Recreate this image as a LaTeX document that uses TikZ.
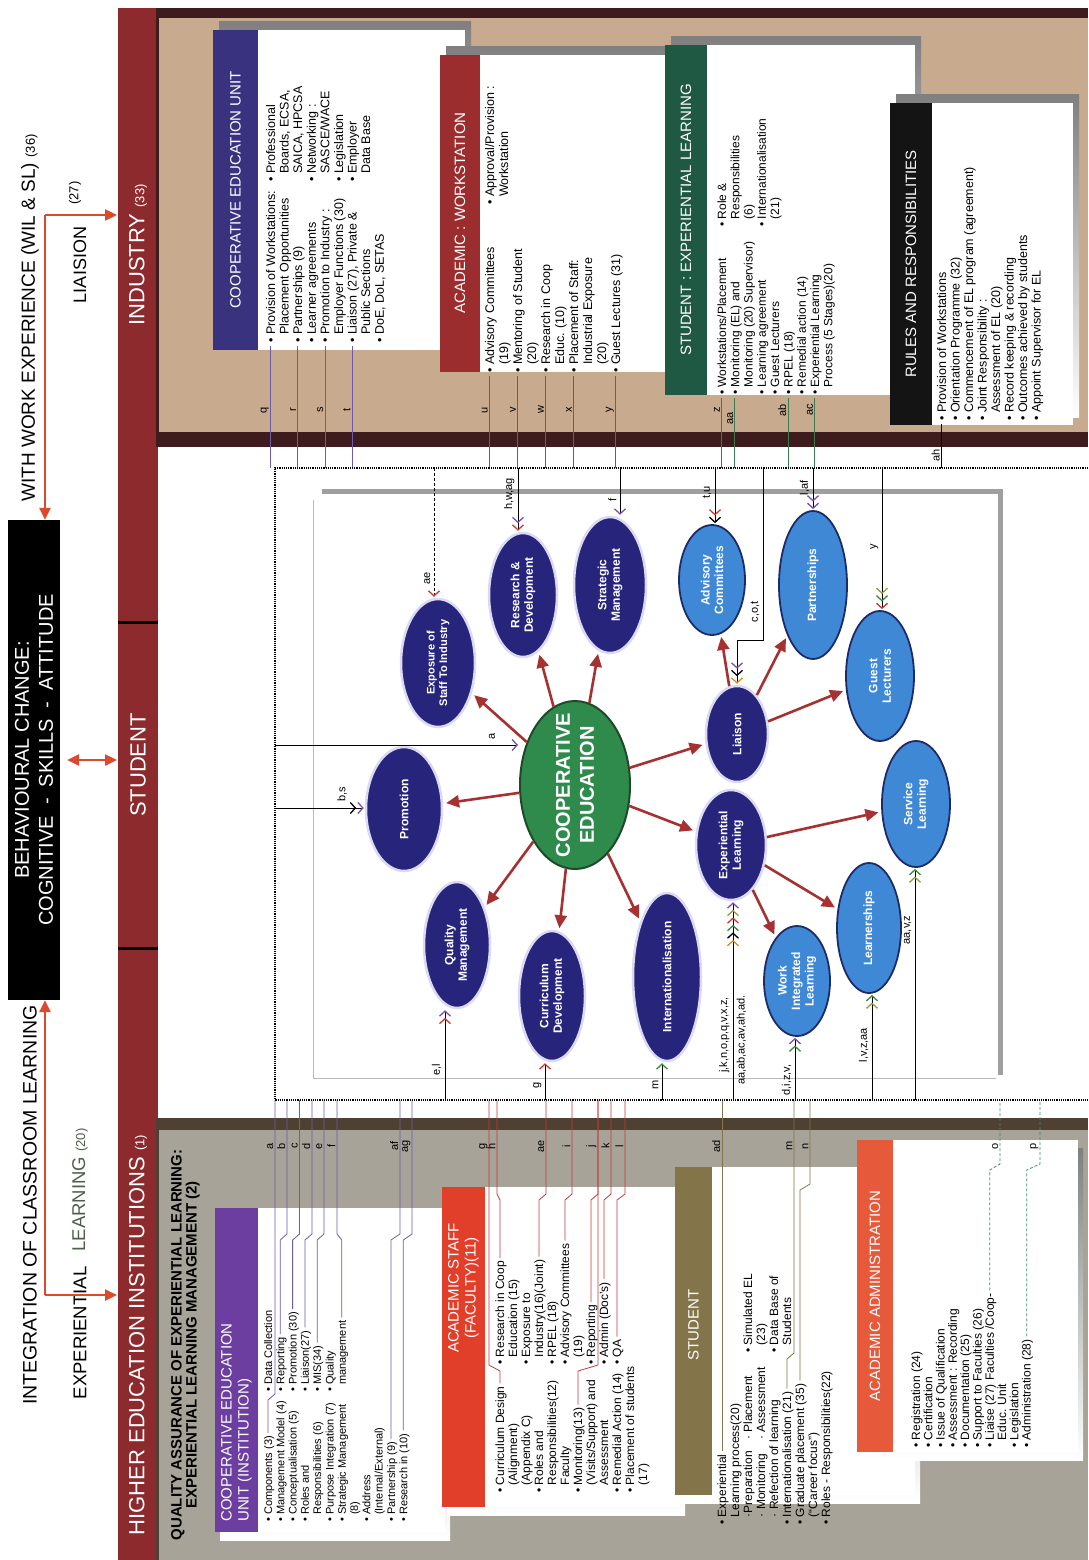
\documentclass[tikz,border=0pt]{standalone}
\usepackage{fontspec}
\setmainfont{Liberation Sans}
\usetikzlibrary{arrows.meta,shapes.geometric}

\definecolor{band}{HTML}{8C2A2E}
\definecolor{indbg}{HTML}{C8AA8F}
\definecolor{heibg}{HTML}{A7A398}
\definecolor{darkline}{HTML}{3E1B1D}
\definecolor{heiline}{HTML}{4F4131}
\definecolor{shade}{HTML}{8F8F8F}
\definecolor{ceuind}{HTML}{38327F}
\definecolor{acws}{HTML}{9C2D2F}
\definecolor{stel}{HTML}{1F5943}
\definecolor{rulesh}{HTML}{141414}
\definecolor{ceuhei}{HTML}{6B3E9F}
\definecolor{acst}{HTML}{E23F2B}
\definecolor{stuhei}{HTML}{847449}
\definecolor{acadm}{HTML}{E65A3B}
\definecolor{navy}{HTML}{27247B}
\definecolor{halo}{HTML}{DCDAF2}
\definecolor{skyb}{HTML}{3E88D6}
\definecolor{rim}{HTML}{1E2B66}
\definecolor{coopg}{HTML}{2F8B4C}
\definecolor{coopd}{HTML}{1E4A2A}
\definecolor{spoke}{HTML}{A53130}
\definecolor{leftred}{HTML}{DC4A2E}
\definecolor{lpurple}{HTML}{6E5AAE}
\definecolor{lred}{HTML}{C23B3B}
\definecolor{lteal}{HTML}{3F8A7C}
\definecolor{lgreen}{HTML}{3C7A52}
\definecolor{lrng}{HTML}{4E5F4B}
\definecolor{bpur}{HTML}{7A4FB0}
\definecolor{bred}{HTML}{D0392A}
\definecolor{bgrn}{HTML}{3A8A3A}
\definecolor{borg}{HTML}{E08A20}
\definecolor{boli}{HTML}{9A9A40}

\tikzset{
  tip1/.style={-{Straight Barb[length=5pt,width=11pt,line width=1.3pt,sep=1pt,color=#1]}},
  tip2/.style 2 args={-{Straight Barb[length=5pt,width=11pt,line width=1.3pt,sep=1pt,color=#1]
    Straight Barb[length=5pt,width=11pt,line width=1.3pt,sep=1pt,color=#2]}},
  tip3/.style n args={3}{-{Straight Barb[length=5pt,width=11pt,line width=1.3pt,sep=1pt,color=#1]
    Straight Barb[length=5pt,width=11pt,line width=1.3pt,sep=1pt,color=#2]
    Straight Barb[length=5pt,width=11pt,line width=1.3pt,sep=1pt,color=#3]}},
  tip6/.style n args={6}{-{Straight Barb[length=5pt,width=11pt,line width=1.3pt,sep=1pt,color=#1]
    Straight Barb[length=5pt,width=11pt,line width=1.3pt,sep=1pt,color=#2]
    Straight Barb[length=5pt,width=11pt,line width=1.3pt,sep=1pt,color=#3]
    Straight Barb[length=5pt,width=11pt,line width=1.3pt,sep=1pt,color=#4]
    Straight Barb[length=5pt,width=11pt,line width=1.3pt,sep=1pt,color=#5]
    Straight Barb[length=5pt,width=11pt,line width=1.3pt,sep=1pt,color=#6]}}
}

\newcommand{\bul}{\textbullet\ }
\newcommand{\skp}{\phantom{\textbullet\ }}
% HEI row: from the end of the text up to the dotted frame
\newcommand{\hlink}[5]{%
  \coordinate (s) at ([xshift=-4pt,yshift=3pt]#2.base east);
  \draw[#1] (s) -- (s |- 0,#3) -- (#4,#3-6) -- (#4,1100);
  \node[lab] at (#4,1146) {#5};}
% industry row: from the bullet down to the dotted frame
\newcommand{\ilink}[4]{%
  \coordinate (s) at ([xshift=-4.5pt,yshift=-3pt]#2.base west);
  \draw[#1] (s) -- (s |- 0,468);
  \node[lab] at (s |- 0,#4) {#3};}

\begin{document}
\begin{tikzpicture}[x=1pt,y=-1pt,
  every node/.style={rotate=90,inner sep=0pt},
  lst/.style={anchor=base west,font=\fontsize{#1}{#1}\selectfont},
  lst/.default=12.5,
  hd/.style={text=white,align=center,font=\fontsize{15}{17}\selectfont},
  lab/.style={anchor=south,inner sep=1.5pt,font=\fontsize{11}{11}\selectfont},
  ell/.style 2 args={ellipse,minimum height=#1,minimum width=#2,align=center,text=white,
    font=\bfseries\fontsize{12}{13.5}\selectfont},
  dk/.style={fill=navy,draw=halo,line width=2.5pt},
  lt/.style={fill=skyb,draw=rim,line width=1.8pt},
  spk/.style={draw=spoke,line width=2.6pt,-{Triangle[length=13pt,width=12pt]},shorten >=3pt},
  lr/.style={draw=leftred,line width=2.4pt,-{Triangle[length=12pt,width=11pt]}},
  ml/.style={line width=0.8pt}]
\useasboundingbox (0,0) rectangle (1088,1560);
\fill[white] (0,0) rectangle (1088,1560);

% section grounds
\fill[indbg] (158,8) rectangle (1088,440);
\fill[heibg] (158,1125) rectangle (1088,1560);
\fill[darkline] (158,8) rectangle (1088,18);
\fill[darkline] (158,432) rectangle (1088,447);
\fill[heiline] (158,1118) rectangle (1088,1130);
\fill[band] (118,8) rectangle (158,1560);
\draw[darkline,line width=3pt] (157,8) -- (157,447);
\draw[heiline,line width=3pt] (157,1118) -- (157,1560);
\draw[black,line width=3pt] (118,622) -- (158,622);
\draw[black,line width=3pt] (118,948) -- (158,948);
\node[text=white,font=\fontsize{22}{22}\selectfont] (indl) at (138,255) {INDUSTRY {\fontsize{13}{13}\selectfont(33)}};
\node[text=white,font=\fontsize{22}{22}\selectfont] (stul) at (138,765) {STUDENT};
\node[text=white,font=\fontsize{22}{22}\selectfont] (heil) at (138,1335) {HIGHER EDUCATION INSTITUTIONS {\fontsize{13}{13}\selectfont(1)}};

% headings on the left
\coordinate (bandL) at (117,0);
\node[fill=black,text=white,minimum width=480pt,minimum height=52pt,align=center,
  font=\fontsize{20}{24}\selectfont] (bc) at (34,760)
  {BEHAVIOURAL CHANGE:\\COGNITIVE \ - \ SKILLS \ - \ ATTITUDE};
\node[font=\fontsize{19.5}{20}\selectfont] (icl) at (30,1205) {INTEGRATION OF CLASSROOM LEARNING};
\node[font=\fontsize{18.5}{19}\selectfont] (exl) at (80,1333) {EXPERIENTIAL};
\node[font=\fontsize{18.5}{19}\selectfont,text=lrng] (lrn) at (80,1190) {LEARNING {\fontsize{13}{13}\selectfont(20)}};
\node[font=\fontsize{19}{20}\selectfont] (wwe) at (30,318) {WITH WORK EXPERIENCE (WIL \& SL) {\fontsize{13}{13}\selectfont(36)}};
\node[font=\fontsize{18}{19}\selectfont] (lia) at (80,265) {LIAISION};
\node[font=\fontsize{13}{13}\selectfont] (l27) at (75,193) {(27)};
\coordinate (tl) at (45,215);
\coordinate (bl) at (45,1295);
\draw[lr] (tl) -- (tl |- bc.east);
\draw[lr] (tl) -- (tl -| bandL);
\draw[lr] (bl) -- (bl |- bc.west);
\draw[lr] (bl) -- (bl -| bandL);
\draw[lr,{Triangle[length=12pt,width=11pt]}-{Triangle[length=12pt,width=11pt]}] ([xshift=7pt]bc.south) -- (bandL |- bc.south);

% industry boxes
\fill[shade] (219,22) rectangle (471,342);
\fill[white] (258,30) rectangle (465,350);
\fill[ceuind] (213,30) rectangle (258,350);
\node[hd] (t-ceu) at (235.5,190) {COOPERATIVE EDUCATION UNIT};
\foreach \txt [count=\i] in {\bul Provision of Workstations:,\skp Placement Opportunities,\bul Partnerships (9),\bul Learner agreements,\bul Promotion to Industry :,\skp Employer Functions (30),{\bul Liaison (27), Private \&},\skp Public Sections,{\bul DoE, DoL, SETAS}}
  \node[lst] (ca\i) at ({275+13.6*(\i-1)},343) {\txt};
\foreach \txt [count=\i] in {\bul Professional,{\skp Boards, ECSA,},{\skp SAICA, HPCSA},\bul Networking :,\skp SASCE/WACE,\bul Legislation,\bul Employer,\skp Data Base}
  \node[lst] (cb\i) at ({275+13.6*(\i-1)},182) {\txt};

\fill[shade] (446,47) rectangle (696,364);
\fill[white] (480,55) rectangle (690,372);
\fill[acws] (440,55) rectangle (480,372);
\node[hd] (t-acw) at (460,213) {ACADEMIC : WORKSTATION};
\foreach \txt [count=\i] in {\bul Advisory Committees,\skp (19),\bul Mentoring of Student,\skp (20),\bul Research in Coop,\skp Educ. (10),\bul Placement of Staff:,\skp Industrial Exposure,\skp (20),\bul Guest Lectures (31)}
  \node[lst] (wa\i) at ({494+14*(\i-1)},373) {\txt};
\foreach \txt [count=\i] in {\bul Approval/Provision :,\skp Workstation}
  \node[lst] (wb\i) at ({494+14*(\i-1)},205) {\txt};

\fill[shade] (671,37) rectangle (921,387);
\fill[white] (707,45) rectangle (915,395);
\fill[stel] (665,45) rectangle (707,395);
\node[hd] (t-sel) at (686,220) {STUDENT : EXPERIENTIAL LEARNING};
\foreach \txt [count=\i] in {\bul Workstations/Placement,\bul Monitoring (EL) and,\skp Monitoring (20) Supervisor),\bul Learning agreement,\bul Guest Lecturers,\bul RPEL (18),\bul Remedial action (14),\bul Experiential Learning,\skp Process (5 Stages)(20)}
  \node[lst=12] (sa\i) at ({726+13.3*(\i-1)},395) {\txt};
\foreach \txt [count=\i] in {\bul Role \&,\skp Responsibilities,\skp (6),\bul Internationalisation,\skp (21)}
  \node[lst=12] (sb\i) at ({726+13.3*(\i-1)},227) {\txt};

\fill[shade] (896,95) rectangle (1079,417);
\fill[white] (932,103) rectangle (1073,425);
\fill[rulesh] (890,103) rectangle (932,425);
\node[hd] (t-rr) at (911,264) {RULES AND RESPONSIBILITIES};
\foreach \txt [count=\i] in {\bul Provision of Workstations,\bul Orientation Programme (32),\bul Commencement of EL program (agreement),\bul Joint Responsibility :,\skp Assessment of EL (20),\bul Record keeping \& recording,\bul Outcomes achieved by students,\bul Appoint Supervisor for EL}
  \node[lst] (ra\i) at ({946+13.5*(\i-1)},421) {\txt};

% HEI boxes
\node[font=\bfseries\fontsize{15}{15}\selectfont,align=center] (qa) at (185.5,1345)
  {QUALITY ASSURANCE OF EXPERIENTIAL LEARNING:\\EXPERIENTIAL LEARNING MANAGEMENT (2)};

\fill[shade] (220,1216) rectangle (450,1540);
\fill[white] (258,1208) rectangle (445,1532);
\fill[ceuhei] (215,1208) rectangle (258,1532);
\node[hd,align=left,anchor=west] (t-ceh) at (236.5,1522) {COOPERATIVE EDUCATION\\UNIT (INSTITUTION)};
\foreach \txt [count=\i] in {\bul Components (3),\bul Management Model (4),\bul Conceptualisation (5),\bul Roles and,\skp Responsibilities (6),\bul Purpose Integration (7),\bul Strategic Management,\skp (8),\bul Address,\skp (Internal/External),\bul Partnership (9),\bul Research in (10)}
  \node[lst=11] (ha\i) at ({272+12.3*(\i-1)},1522) {\txt};
\foreach \txt [count=\i] in {\bul Data Collection,\bul Reporting,\bul Promotion (30),\bul Liaison(27),\bul MIS(34),\bul Quality,\skp management}
  \node[lst=11] (hb\i) at ({272+12.3*(\i-1)},1392) {\txt};

\fill[shade] (447,1195) rectangle (685,1515);
\fill[white] (485,1187) rectangle (680,1507);
\fill[acst] (442,1187) rectangle (485,1507);
\node[hd] (t-acs) at (463.5,1288) {ACADEMIC STAFF\\(FACULTY)(11)};
\foreach \txt [count=\i] in {\bul Curriculum Design,\skp (Alignment),\skp (Appendix C),\bul Roles and,\skp Responsibilities(12),\skp Faculty,\bul Monitoring(13),\skp (Visits/Support) and,\skp Assessment,\bul Remedial Action (14),\bul Placement of students,\skp (17)}
  \node[lst=12] (hc\i) at ({504+13*(\i-1)},1493) {\txt};
\foreach \txt [count=\i] in {\bul Research in Coop,\skp Education (15),\bul Exposure to,\skp Industry(16)(Joint),\bul RPEL (18),\bul Advisory Committees,\skp (19),\bul Reporting,\bul Admin (Doc's),\bul QA}
  \node[lst=12] (hd\i) at ({504+13*(\i-1)},1365) {\txt};

\fill[shade] (680,1175) rectangle (920,1503);
\fill[white] (712,1167) rectangle (915,1495);
\fill[stuhei] (675,1167) rectangle (712,1495);
\node[hd] (t-sth) at (693.5,1325) {STUDENT};
\foreach \txt [count=\i] in {\bul Experiential,\skp Learning process(20),\skp ·Preparation,\skp · Monitoring,\skp · Refection of learning,\bul Internationalisation (21),\bul Graduate placement (35),\skp (``Career focus''),\bul Roles - Responsibilities(22)}
  \node[lst=12] (he\i) at ({726+13*(\i-1)},1525) {\txt};
\node[lst=12] (hf3) at (752,1440) {· Placement};
\node[lst=12] (hf4) at (765,1440) {· Assessment};
\foreach \txt [count=\i from 3] in {\bul Simulated EL,\skp (23),\bul Data Base of,\skp Students}
  \node[lst=12] (hg\i) at ({726+13*(\i-1)},1353) {\txt};

\fill[shade] (862,1148) rectangle (1083,1460);
\fill[white] (893,1140) rectangle (1078,1452);
\fill[acadm] (857,1140) rectangle (893,1452);
\node[hd] (t-adm) at (875,1296) {ACADEMIC ADMINISTRATION};
\foreach \txt [count=\i] in {\bul Registration (24),\bul Certification,\bul Issue of Qualification,\bul Assessment : Recording,\bul Documentation (25),\bul Support to Faculties (26),\bul Liaise (27) Faculties /Coop-,\skp Educ. Unit,\bul Legislation,\bul Administration (28)}
  \node[lst=12] (hk\i) at ({920+12.3*(\i-1)},1448) {\txt};

% lettered lines out of the boxes
\ilink{lpurple,ml}{ca1}{q}{410}
\ilink{lpurple,ml}{ca3}{r}{410}
\ilink{lpurple,ml}{ca5}{s}{410}
\ilink{lpurple,ml}{ca7}{t}{410}
\ilink{lred,ml}{wa1}{u}{410}
\ilink{lred,ml}{wa3}{v}{410}
\ilink{lred,ml}{wa5}{w}{410}
\ilink{lred,ml}{wa7}{x}{410}
\ilink{lred,ml}{wa10}{y}{410}
\ilink{lgreen,ml}{sa1}{z}{410}
\ilink{lgreen,ml}{sa2}{aa}{418}
\ilink{lgreen,ml}{sa6}{ab}{410}
\ilink{lgreen,ml}{sa8}{ac}{410}
\ilink{black,ml}{ra1}{ah}{455}

\hlink{lpurple,ml}{ha1}{1400}{275}{a}
\hlink{lpurple,ml}{hb2}{1240}{287}{b}
\hlink{lpurple,ml}{hb3}{1240}{299.5}{c}
\hlink{lpurple,ml}{hb4}{1240}{312}{d}
\hlink{lpurple,ml}{hb5}{1240}{324}{e}
\hlink{lpurple,ml}{hb7}{1240}{337}{f}
\hlink{lpurple,ml}{ha11}{1240}{400}{af}
\hlink{lpurple,ml}{ha12}{1240}{412}{ag}
\hlink{lred,ml}{hc1}{1371}{489}{g}
\hlink{lred,ml}{hd1}{1200}{497}{h}
\hlink{lred,ml}{hd4}{1200}{546}{ae}
\hlink{lred,ml}{hd6}{1200}{572}{i}
\hlink{lred,ml}{hc7}{1371}{598}{j}
\hlink{lred,ml}{hd8}{1200}{598}{}
\hlink{lred,ml}{hd9}{1200}{611}{k}
\hlink{lred,ml}{hd10}{1200}{625}{l}
\hlink{stuhei,ml}{he1}{1190}{722}{ad}
\hlink{stuhei,ml}{he6}{1359}{794}{m}
\hlink{stuhei,ml}{he7}{1190}{810}{n}
\hlink{lteal,ml,densely dashed}{hk7}{1170}{1000}{o}
\hlink{lteal,ml,densely dashed}{hk10}{1170}{1040}{p}

% frames of the middle part
\draw[densely dotted,line width=1.2pt] (1088,468) -- (275,468) -- (275,1100) -- (1088,1100);
\draw[gray!75,line width=5pt] (322,491) -- (1000,491) -- (1000,1075);
\draw[gray!55,line width=0.8pt] (313,500) -- (313,1078) -- (996,1078);

% the ellipses
\node[ellipse,fill=coopg,draw=coopd,line width=2pt,minimum height=110pt,minimum width=168pt] (coop) at (575,785) {};
\node[text=white,align=center,font=\bfseries\fontsize{20}{24}\selectfont] (coopt) at (coop) {COOPERATIVE\\EDUCATION};
\node[ell={76pt}{124pt},dk] (promo) at (404,809) {Promotion};
\node[ell={74pt}{128pt},dk,font=\bfseries\fontsize{11}{12.5}\selectfont] (expo) at (438,663) {Exposure of\\Staff To Industry};
\node[ell={68pt}{124pt},dk] (resdev) at (523,595) {Research \&\\Development};
\node[ell={72pt}{136pt},dk] (strat) at (610,585) {Strategic\\Management};
\node[ell={66pt}{126pt},dk] (quality) at (457,945) {Quality\\Management};
\node[ell={66pt}{130pt},dk] (curric) at (552,996) {Curriculum\\Development};
\node[ell={68pt}{168pt},dk] (intl) at (667,977) {Internationalisation};
\node[ell={66pt}{110pt},lt] (advis) at (712,580) {Advisory\\Committees};
\node[ell={62pt}{96pt},dk] (liaison) at (737,734) {Liaison};
\node[ell={70pt}{110pt},dk] (expl) at (731,845) {Experiential\\Learning};
\node[ell={68pt}{148pt},lt] (partner) at (813,585) {Partnerships};
\node[ell={68pt}{130pt},lt] (guest) at (880,676) {Guest\\Lecturers};
\node[ell={68pt}{126pt},lt] (service) at (916,804) {Service\\Learning};
\node[ell={64pt}{130pt},lt] (learner) at (869,928) {Learnerships};
\node[ell={66pt}{110pt},lt] (wil) at (797,981) {Work\\Integrated\\Learning};

\foreach \e in {promo,expo,resdev,strat,quality,curric,intl,liaison,expl}
  \draw[spk] (coop) -- (\e);
\foreach \e in {advis,partner,guest}
  \draw[spk] (liaison) -- (\e);
\foreach \e in {service,learner,wil}
  \draw[spk] (expl) -- (\e);

% lettered lines into the ellipses
\coordinate (c-bs) at (275,808);
\draw[ml,tip2={black}{bpur}] (c-bs) -- (c-bs -| promo.north);
\node[lab,anchor=west] at (342,803) {b,s};
\coordinate (c-a) at (275,745);
\draw[ml,tip1=bpur] (c-a) -- (c-a -| coop.north);
\node[lab,anchor=west] at (492,741) {a};
\coordinate (c-ae) at (434,468);
\draw[ml,densely dashed,tip1=bred] (c-ae) -- (c-ae |- expo.east);
\node[lab] at (432,578) {ae};
\coordinate (c-hw) at (518,468);
\draw[ml,tip2={bpur}{bred}] (c-hw) -- (c-hw |- resdev.east);
\node[lab] at (516,494) {h,w,ag};
\coordinate (c-f) at (620,468);
\draw[ml,tip1=bpur] (c-f) -- (c-f |- strat.east);
\node[lab] at (618,500) {f};
\coordinate (c-tu) at (715,468);
\draw[ml,tip2={bred}{black}] (c-tu) -- (c-tu |- advis.east);
\node[lab] at (713,492) {t,u};
\coordinate (c-co) at (763,468);
\coordinate (k-co) at (737,640);
\draw[ml,tip3={bpur}{black}{borg}] (c-co) |- (k-co) -- (k-co |- liaison.east);
\node[lab] at (761,612) {c,o,t};
\coordinate (c-la) at (813,468);
\draw[ml,tip2={bpur}{bpur}] (c-la) -- (c-la |- partner.east);
\node[lab] at (811,488) {l,af};
\coordinate (c-y) at (882,468);
\draw[ml,tip3={boli}{bgrn}{bred}] (c-y) -- (c-y |- guest.east);
\node[lab] at (880,547) {y};
\coordinate (c-el) at (445,1100);
\draw[ml,tip2={bred}{bpur}] (c-el) -- (c-el |- quality.west);
\node[lab] at (443,1070) {e,l};
\coordinate (c-g) at (545,1100);
\draw[ml,tip1=bred] (c-g) -- (c-g |- curric.west);
\node[lab] at (543,1085) {g};
\coordinate (c-m) at (662,1100);
\draw[ml,tip1=bgrn] (c-m) -- (c-m |- intl.west);
\node[lab] at (660,1085) {m};
\coordinate (c-jk) at (733,1100);
\draw[ml,tip6={borg}{black}{bgrn}{bred}{boli}{bpur}] (c-jk) -- (c-jk |- expl.west);
\node[lab] at (731,1035) {j,k,n,o,p,q,v,x,z,};
\node[lab,anchor=north] at (735,1040) {aa,ab,ac,av,ah,ad.};
\coordinate (c-di) at (795,1100);
\draw[ml,tip2={bgrn}{bpur}] (c-di) -- (c-di |- wil.west);
\node[lab] at (793,1080) {d,i,z,v,};
\coordinate (c-lv) at (872,1100);
\draw[ml,tip2={boli}{bgrn}] (c-lv) -- (c-lv |- learner.west);
\node[lab] at (870,1045) {l,v,z,aa};
\coordinate (c-av) at (915,1100);
\draw[ml,tip2={boli}{bgrn}] (c-av) -- (c-av |- service.west);
\node[lab] at (913,930) {aa,v,z};
\end{tikzpicture}
\end{document}
